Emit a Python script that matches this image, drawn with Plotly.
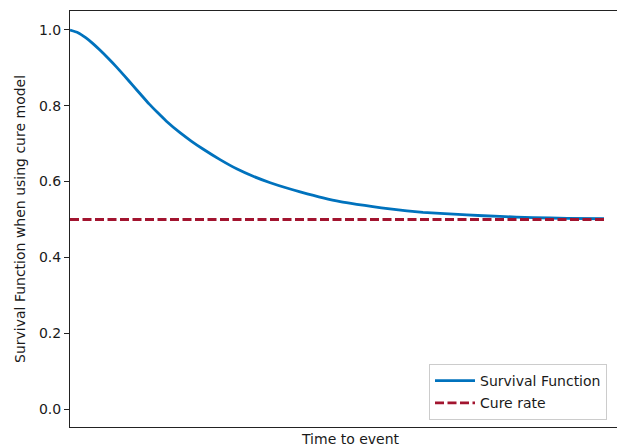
import plotly.graph_objects as go

# Data (time axis in arbitrary units, no tick labels)
time_vals = [0.00, 0.15, 0.30, 0.43, 0.56, 0.71, 0.86, 1.02, 1.18, 1.33, 1.48, 1.64,
             1.80, 2.06, 2.27, 2.49, 2.81, 3.13, 3.43, 3.75, 4.06, 4.31, 4.74, 5.06,
             5.37, 5.67, 5.99, 6.31, 6.61, 6.93, 7.43, 8.05, 8.67, 9.31, 10.00]
survival_vals = [1.000, 0.993, 0.979, 0.964, 0.947, 0.926, 0.904, 0.879, 0.853, 0.829,
                 0.805, 0.782, 0.760, 0.729, 0.707, 0.686, 0.658, 0.633, 0.614, 0.597,
                 0.583, 0.573, 0.557, 0.547, 0.540, 0.534, 0.528, 0.523, 0.519, 0.516,
                 0.512, 0.508, 0.505, 0.503, 0.502]
cure_time = [0.0, 10.0]
cure_rate = [0.5, 0.5]
y_ticks = [0.0, 0.2, 0.4, 0.6, 0.8, 1.0]

BLUE = "#0072BD"
RED = "#A2142F"
FONT = "DejaVu Sans"

fig = go.Figure()
fig.add_trace(go.Scatter(x=time_vals, y=survival_vals, mode="lines",
                         line=dict(color=BLUE, width=2.8, shape="spline", smoothing=0.5),
                         name="Survival Function", legendgroup="a"))
fig.add_trace(go.Scatter(x=cure_time, y=cure_rate, mode="lines",
                         line=dict(color=RED, width=2.8, dash="9px,3.5px"),
                         name="Cure rate", legendgroup="b"))

W, H = 617, 446
L, R, T, B = 70, 0, 11, 19
pw, ph = W - L - R, H - T - B

fig.update_layout(
    width=W, height=H,
    margin=dict(l=L, r=R, t=T, b=B, pad=0),
    paper_bgcolor="white", plot_bgcolor="white",
    font=dict(family=FONT, size=14, color="#1a1a1a"),
    showlegend=True,
    legend=dict(x=(429 - L) / pw, y=7 / ph, xanchor="left", yanchor="bottom",
                bgcolor="rgba(255,255,255,0.8)", bordercolor="#cccccc", borderwidth=1,
                font=dict(family=FONT, size=14, color="#1a1a1a"),
                traceorder="grouped", tracegroupgap=1, itemwidth=40),
    xaxis=dict(range=[0, 10 * pw / 534], showgrid=False, zeroline=False,
               showticklabels=False, ticks="", showline=True, linecolor="#222222",
               linewidth=1.1, mirror=True),
    yaxis=dict(range=[-0.0475, 1.0501], showgrid=False, zeroline=False,
               tickmode="array", tickvals=y_ticks,
               ticktext=[f"{v:.1f}" for v in y_ticks],
               ticks="outside", ticklen=5, tickwidth=1.1, tickcolor="#222222",
               showline=True, linecolor="#222222", linewidth=1.1, mirror=False,
               tickfont=dict(family=FONT, size=14, color="#1a1a1a")),
    annotations=[
        dict(text="Time to event", xref="paper", yref="paper",
             x=(350 - L) / pw, y=-(439 - (H - B)) / ph, xanchor="center", yanchor="middle",
             showarrow=False, font=dict(family=FONT, size=14, color="#1a1a1a")),
        dict(text="Survival Function when using cure model", xref="paper", yref="paper",
             x=(20 - L) / pw, y=0.5, xanchor="center", yanchor="middle", textangle=-90,
             showarrow=False, font=dict(family=FONT, size=14, color="#1a1a1a")),
    ],
)

fig.write_html("out.html")
